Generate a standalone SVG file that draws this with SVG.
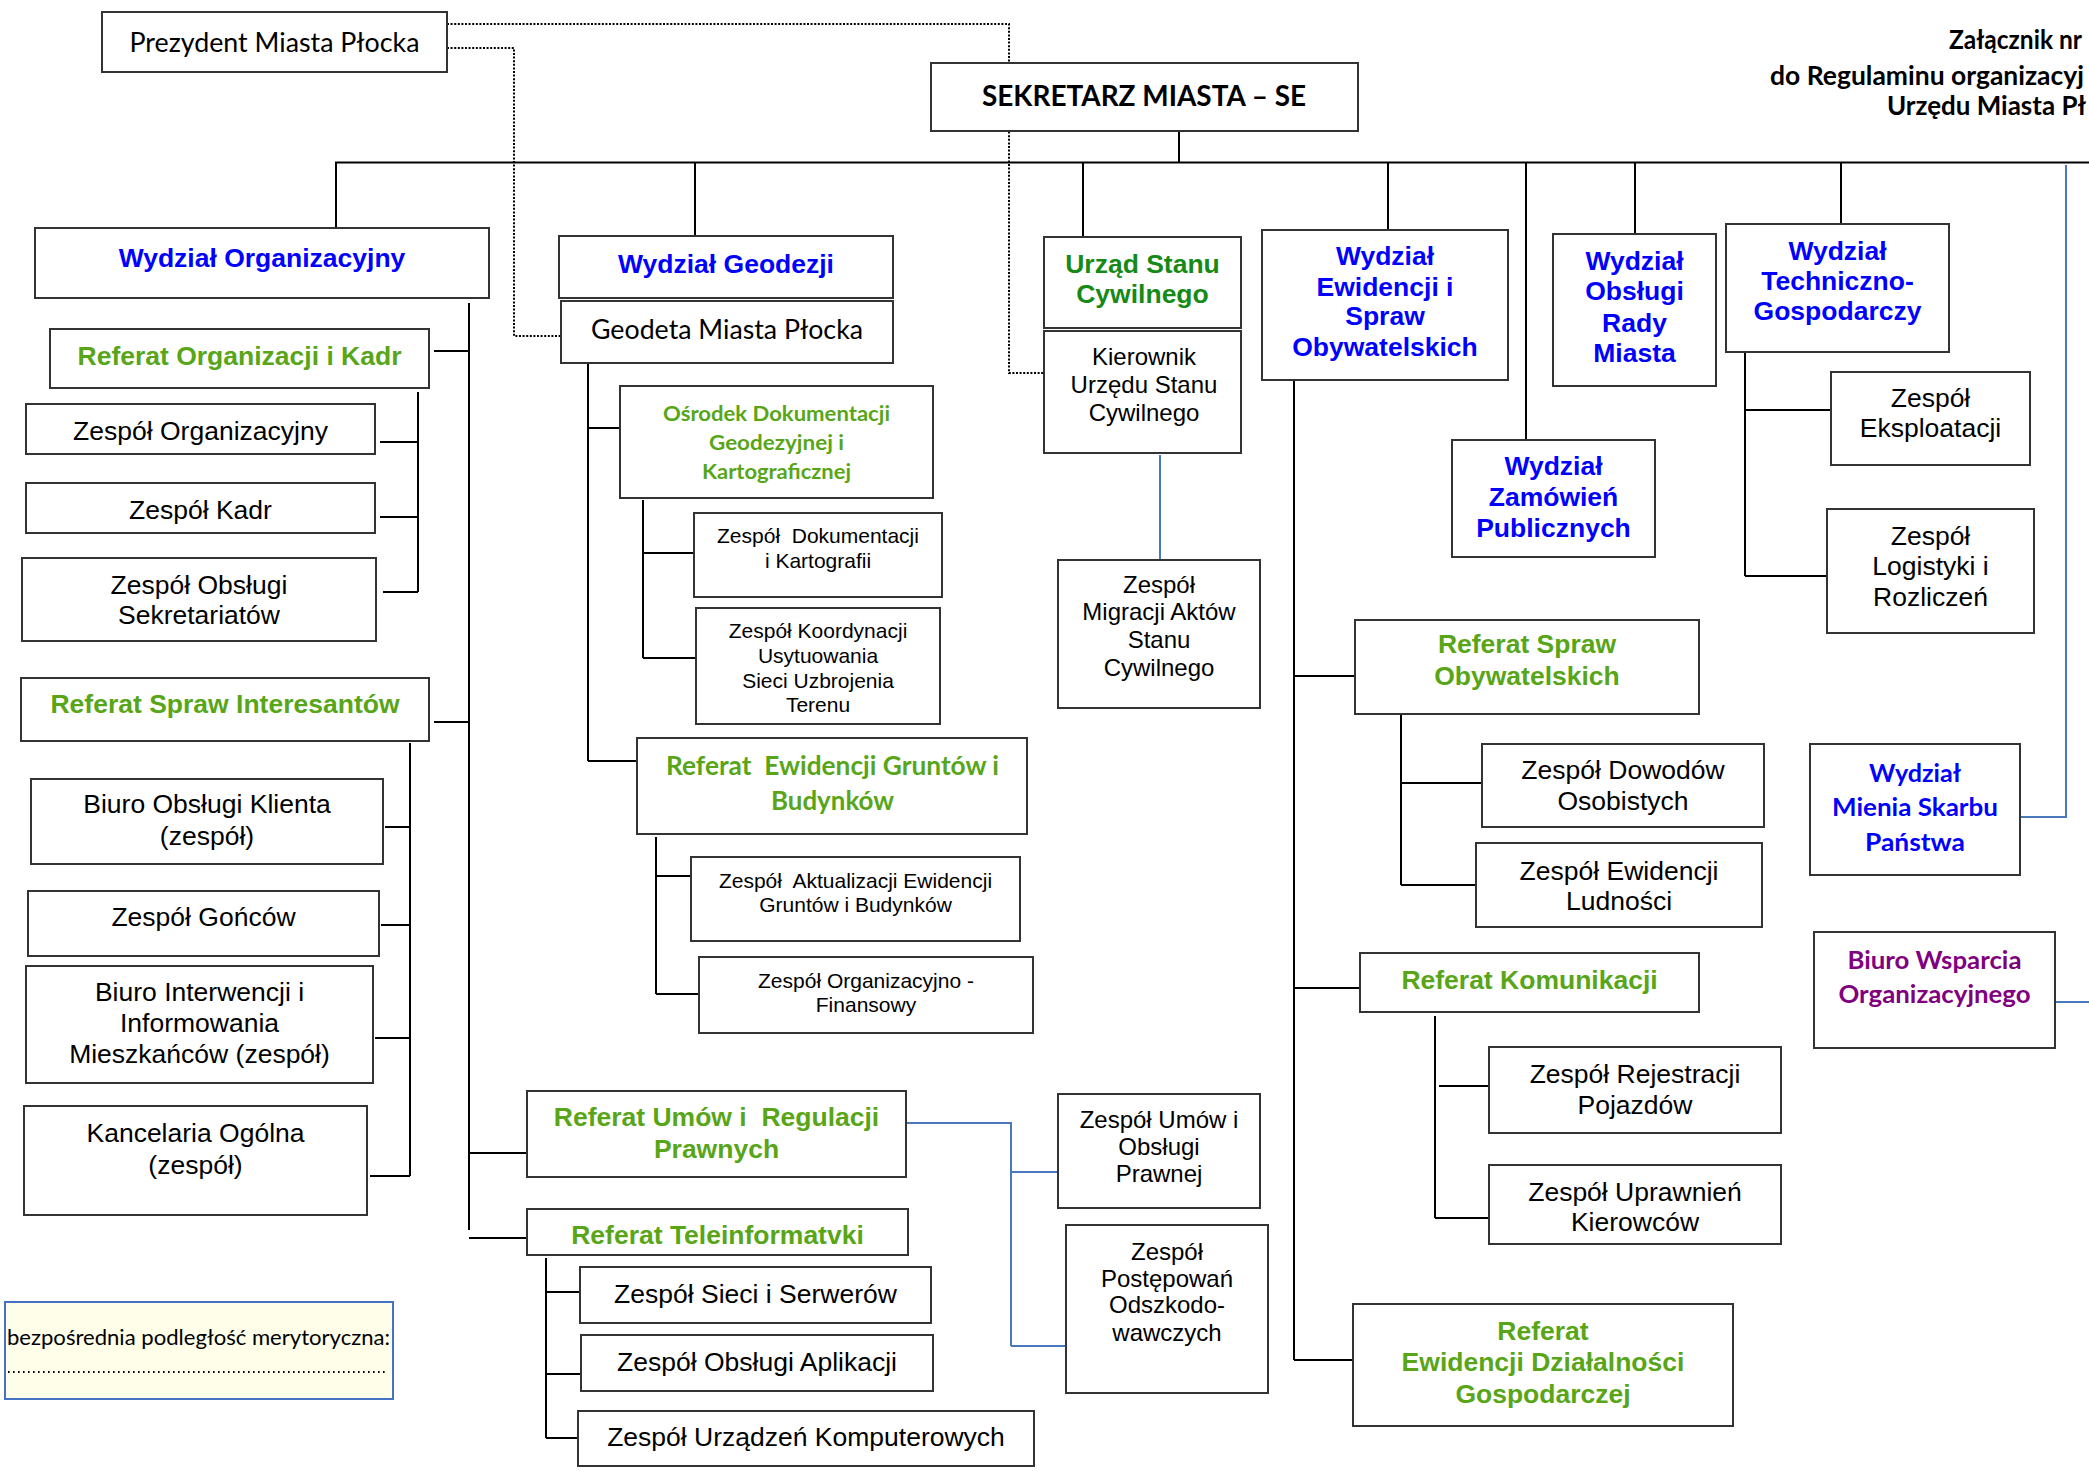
<svg xmlns="http://www.w3.org/2000/svg" width="2089" height="1471" viewBox="0 0 2089 1471">
<style>
.b{fill:#fff;stroke:#333;stroke-width:2}
.k{fill:none;stroke:#000;stroke-width:2}
.bl{fill:none;stroke:#4a78bd;stroke-width:2}
.d{fill:none;stroke:#000;stroke-width:2;stroke-dasharray:2 1.6}
text{text-anchor:middle}
.ar{font-family:"Liberation Sans",Arial,sans-serif;font-size:26.5px;fill:#000}
.s24{font-size:24px}
.s21{font-size:21px}
.ca{font-family:Lato,"Open Sans",sans-serif;fill:#000}
.wb{font-weight:bold;fill:#0000ff}
.gr{font-weight:bold;fill:#58a618}
.dg{font-weight:bold;fill:#168a16}
.pu{font-weight:bold;fill:#800080}
</style>
<rect width="2089" height="1471" fill="#fff"/>

<g id="connectors">
  <path class="k" d="M336 228V162.5H2089"/>
  <path class="k" d="M1179 131V163M695 162V236M1083 162V237M1388 162V230M1526 162V440M1635 163V234M1841 163V224"/>
  <path class="k" d="M469 303V1230M434 351H469M434 722H469M469 1153H527M469 1238H527"/>
  <path class="k" d="M418 392V592M380 442H418M380 517H418M383 592H418"/>
  <path class="k" d="M410 743V1176M385 827H410M381 925H410M375 1038H410M370 1176H410"/>
  <path class="k" d="M588 363V761M588 428H625M588 761H637"/>
  <path class="k" d="M643 500V658M643 553H694M643 658H696"/>
  <path class="k" d="M656 837V994M656 876H693M656 994H706"/>
  <path class="k" d="M546 1258V1438M546 1292H580M546 1374H581M546 1438H578"/>
  <path class="k" d="M1294 380V1360M1294 676H1355M1294 988H1366M1294 1360H1353"/>
  <path class="k" d="M1401 714V885M1401 783H1482M1401 885H1476"/>
  <path class="k" d="M1435 1016V1218M1439 1086H1497M1435 1218H1489"/>
  <path class="k" d="M1745 352V576M1745 410H1831M1745 576H1828"/>
  <path class="bl" d="M1160 455V559"/>
  <path class="bl" d="M906 1123H1011V1346M1011 1172H1058M1011 1346H1066"/>
  <path class="bl" d="M2066 165V817H2020"/>
  <path class="bl" d="M2055 1002H2089"/>
  <path class="d" d="M447 24H1009V373H1044"/>
  <path class="d" d="M447 48H514V336H561"/>
</g>

<g id="header">
  <text class="ca" font-weight="bold" font-size="26" x="1949" y="49" style="text-anchor:start" textLength="133" lengthAdjust="spacingAndGlyphs">Załącznik nr</text>
  <text class="ca" font-weight="bold" font-size="26" x="1770" y="85" style="text-anchor:start" textLength="314" lengthAdjust="spacingAndGlyphs">do Regulaminu organizacyj</text>
  <text class="ca" font-weight="bold" font-size="26" x="1887" y="115" style="text-anchor:start" textLength="199" lengthAdjust="spacingAndGlyphs">Urzędu Miasta Pł</text>
</g>

<g id="prezydent"><rect class="b" x="102" y="12" width="345" height="60"/>
  <text class="ca" font-size="27" x="274.5" y="52" textLength="290" lengthAdjust="spacingAndGlyphs">Prezydent Miasta Płocka</text></g>
<g id="sekretarz"><rect class="b" x="931" y="63" width="427" height="68"/>
  <text class="ca" font-weight="bold" font-size="29" x="1144" y="106" textLength="324" lengthAdjust="spacingAndGlyphs">SEKRETARZ MIASTA – SE</text></g>

<g id="wydzial-organizacyjny"><rect class="b" x="35" y="228" width="454" height="70"/>
  <text class="ar wb" font-size="25" x="262" y="267">Wydział Organizacyjny</text></g>
<g id="referat-organizacji-kadr"><rect class="b" x="50" y="329" width="379" height="59"/>
  <text class="ar gr" x="239.5" y="365">Referat Organizacji i Kadr</text></g>
<g id="zespol-organizacyjny"><rect class="b" x="26" y="404" width="349" height="50"/>
  <text class="ar" x="200.5" y="440">Zespół Organizacyjny</text></g>
<g id="zespol-kadr"><rect class="b" x="26" y="483" width="349" height="50"/>
  <text class="ar" x="200.5" y="519">Zespół Kadr</text></g>
<g id="zespol-sekretariatow"><rect class="b" x="22" y="558" width="354" height="83"/>
  <text class="ar" x="199" y="594">Zespół Obsługi</text><text class="ar" x="199" y="624">Sekretariatów</text></g>
<g id="referat-interesantow"><rect class="b" x="21" y="678" width="408" height="63"/>
  <text class="ar gr" x="225" y="713">Referat Spraw Interesantów</text></g>
<g id="biuro-obslugi-klienta"><rect class="b" x="31" y="779" width="352" height="85"/>
  <text class="ar" x="207" y="813">Biuro Obsługi Klienta</text><text class="ar" x="207" y="845">(zespół)</text></g>
<g id="zespol-goncow"><rect class="b" x="28" y="891" width="351" height="65"/>
  <text class="ar" x="203.5" y="926">Zespół Gońców</text></g>
<g id="biuro-interwencji"><rect class="b" x="26" y="966" width="347" height="117"/>
  <text class="ar" x="199.5" y="1001">Biuro Interwencji i</text><text class="ar" x="199.5" y="1032">Informowania</text><text class="ar" x="199.5" y="1063">Mieszkańców (zespół)</text></g>
<g id="kancelaria"><rect class="b" x="24" y="1106" width="343" height="109"/>
  <text class="ar" x="195.5" y="1142">Kancelaria Ogólna</text><text class="ar" x="195.5" y="1174">(zespół)</text></g>

<g id="legenda"><rect x="5" y="1302" width="388" height="97" fill="#fefee9" stroke="#4472c4" stroke-width="2"/>
  <text class="ca" font-size="22" x="7" y="1345" style="text-anchor:start" textLength="383" lengthAdjust="spacingAndGlyphs">bezpośrednia podległość merytoryczna:</text>
  <path d="M8 1372H388" stroke="#000" stroke-width="2" stroke-dasharray="1.6 3.4" fill="none"/></g>

<g id="wydzial-geodezji"><rect class="b" x="559" y="236" width="334" height="62"/>
  <text class="ar wb" font-size="25.5" x="726" y="273">Wydział Geodezji</text></g>
<g id="geodeta"><rect class="b" x="561" y="301" width="332" height="62"/>
  <text class="ca" font-size="27" x="727" y="339" textLength="272" lengthAdjust="spacingAndGlyphs">Geodeta Miasta Płocka</text></g>
<g id="osrodek"><rect class="b" x="620" y="386" width="313" height="112"/>
  <text class="ca gr" font-size="21" x="776.5" y="421" textLength="227" lengthAdjust="spacingAndGlyphs">Ośrodek Dokumentacji</text>
  <text class="ca gr" font-size="21" x="776.5" y="450" textLength="135" lengthAdjust="spacingAndGlyphs">Geodezyjnej i</text>
  <text class="ca gr" font-size="21" x="776.5" y="479" textLength="149" lengthAdjust="spacingAndGlyphs">Kartograficznej</text></g>
<g id="zespol-dokumentacji"><rect class="b" x="694" y="513" width="248" height="84"/>
  <text class="ar s21" x="818" y="543" xml:space="preserve">Zespół  Dokumentacji</text><text class="ar s21" x="818" y="568">i Kartografii</text></g>
<g id="zespol-koordynacji"><rect class="b" x="696" y="608" width="244" height="116"/>
  <text class="ar s21" x="818" y="638">Zespół Koordynacji</text><text class="ar s21" x="818" y="663">Usytuowania</text><text class="ar s21" x="818" y="688">Sieci Uzbrojenia</text><text class="ar s21" x="818" y="712">Terenu</text></g>
<g id="referat-ewidencji-gruntow"><rect class="b" x="637" y="738" width="390" height="96"/>
  <text class="ca gr" font-size="26" x="832.5" y="775" textLength="333" lengthAdjust="spacingAndGlyphs" xml:space="preserve">Referat  Ewidencji Gruntów i</text>
  <text class="ca gr" font-size="26" x="832.5" y="810" textLength="123" lengthAdjust="spacingAndGlyphs">Budynków</text></g>
<g id="zespol-aktualizacji"><rect class="b" x="691" y="857" width="329" height="84"/>
  <text class="ar s21" x="855.5" y="888" xml:space="preserve">Zespół  Aktualizacji Ewidencji</text><text class="ar s21" x="855.5" y="912">Gruntów i Budynków</text></g>
<g id="zespol-org-fin"><rect class="b" x="699" y="957" width="334" height="76"/>
  <text class="ar s21" x="866" y="988">Zespół Organizacyjno -</text><text class="ar s21" x="866" y="1012">Finansowy</text></g>
<g id="referat-umow"><rect class="b" x="527" y="1091" width="379" height="86"/>
  <text class="ar gr" x="716.5" y="1126" xml:space="preserve">Referat Umów i  Regulacji</text><text class="ar gr" x="716.5" y="1158">Prawnych</text></g>
<g id="referat-teleinformatyki"><rect class="b" x="527" y="1209" width="381" height="46"/>
  <text class="ar gr" x="717.5" y="1244">Referat Teleinformatvki</text></g>
<g id="zespol-sieci"><rect class="b" x="580" y="1267" width="351" height="56"/>
  <text class="ar" x="755.5" y="1303">Zespół Sieci i Serwerów</text></g>
<g id="zespol-aplikacji"><rect class="b" x="581" y="1335" width="352" height="56"/>
  <text class="ar" x="757" y="1371">Zespół Obsługi Aplikacji</text></g>
<g id="zespol-urzadzen"><rect class="b" x="578" y="1411" width="456" height="55"/>
  <text class="ar" x="806" y="1446">Zespół Urządzeń Komputerowych</text></g>
<g id="zespol-umow"><rect class="b" x="1058" y="1094" width="202" height="114"/>
  <text class="ar s24" x="1159" y="1128">Zespół Umów i</text><text class="ar s24" x="1159" y="1155">Obsługi</text><text class="ar s24" x="1159" y="1182">Prawnej</text></g>
<g id="zespol-postepowan"><rect class="b" x="1066" y="1225" width="202" height="168"/>
  <text class="ar s24" x="1167" y="1260">Zespół</text><text class="ar s24" x="1167" y="1287">Postępowań</text><text class="ar s24" x="1167" y="1313">Odszkodo-</text><text class="ar s24" x="1167" y="1341">wawczych</text></g>

<g id="usc"><rect class="b" x="1044" y="237" width="197" height="91"/>
  <text class="ar dg" x="1142.5" y="273">Urząd Stanu</text><text class="ar dg" x="1142.5" y="303">Cywilnego</text></g>
<g id="kierownik-usc"><rect class="b" x="1044" y="331" width="197" height="122"/>
  <text class="ar s24" x="1144" y="365">Kierownik</text><text class="ar s24" x="1144" y="393">Urzędu Stanu</text><text class="ar s24" x="1144" y="421">Cywilnego</text></g>
<g id="zespol-migracji"><rect class="b" x="1058" y="560" width="202" height="148"/>
  <text class="ar s24" x="1159" y="593">Zespół</text><text class="ar s24" x="1159" y="620">Migracji Aktów</text><text class="ar s24" x="1159" y="648">Stanu</text><text class="ar s24" x="1159" y="676">Cywilnego</text></g>

<g id="wydzial-ewidencji"><rect class="b" x="1262" y="230" width="246" height="150"/>
  <text class="ar wb" x="1385" y="265">Wydział</text><text class="ar wb" x="1385" y="296">Ewidencji i</text><text class="ar wb" x="1385" y="325">Spraw</text><text class="ar wb" x="1385" y="356">Obywatelskich</text></g>
<g id="referat-spraw-obywatelskich"><rect class="b" x="1355" y="620" width="344" height="94"/>
  <text class="ar gr" x="1527" y="653">Referat Spraw</text><text class="ar gr" x="1527" y="685">Obywatelskich</text></g>
<g id="zespol-dowodow"><rect class="b" x="1482" y="744" width="282" height="83"/>
  <text class="ar" x="1623" y="779">Zespół Dowodów</text><text class="ar" x="1623" y="810">Osobistych</text></g>
<g id="zespol-ludnosci"><rect class="b" x="1476" y="843" width="286" height="84"/>
  <text class="ar" x="1619" y="880">Zespół Ewidencji</text><text class="ar" x="1619" y="910">Ludności</text></g>
<g id="referat-komunikacji"><rect class="b" x="1360" y="953" width="339" height="59"/>
  <text class="ar gr" x="1529.5" y="989">Referat Komunikacji</text></g>
<g id="zespol-rejestracji"><rect class="b" x="1489" y="1047" width="292" height="86"/>
  <text class="ar" x="1635" y="1083">Zespół Rejestracji</text><text class="ar" x="1635" y="1114">Pojazdów</text></g>
<g id="zespol-uprawnien"><rect class="b" x="1489" y="1165" width="292" height="79"/>
  <text class="ar" x="1635" y="1201">Zespół Uprawnień</text><text class="ar" x="1635" y="1231">Kierowców</text></g>
<g id="referat-dzialalnosci"><rect class="b" x="1353" y="1304" width="380" height="122"/>
  <text class="ar gr" x="1543" y="1340">Referat</text><text class="ar gr" x="1543" y="1371">Ewidencji Działalności</text><text class="ar gr" x="1543" y="1403">Gospodarczej</text></g>

<g id="wydzial-zamowien"><rect class="b" x="1452" y="440" width="203" height="117"/>
  <text class="ar wb" x="1553.5" y="475">Wydział</text><text class="ar wb" x="1553.5" y="506">Zamówień</text><text class="ar wb" x="1553.5" y="537">Publicznych</text></g>
<g id="wydzial-rady"><rect class="b" x="1553" y="234" width="163" height="152"/>
  <text class="ar wb" x="1634.5" y="270">Wydział</text><text class="ar wb" x="1634.5" y="300">Obsługi</text><text class="ar wb" x="1634.5" y="332">Rady</text><text class="ar wb" x="1634.5" y="362">Miasta</text></g>
<g id="wydzial-techniczny"><rect class="b" x="1726" y="224" width="223" height="128"/>
  <text class="ar wb" x="1837.5" y="260">Wydział</text><text class="ar wb" x="1837.5" y="290">Techniczno-</text><text class="ar wb" x="1837.5" y="320">Gospodarczy</text></g>
<g id="zespol-eksploatacji"><rect class="b" x="1831" y="372" width="199" height="93"/>
  <text class="ar" font-size="26" x="1930.5" y="407">Zespół</text><text class="ar" font-size="26" x="1930.5" y="437">Eksploatacji</text></g>
<g id="zespol-logistyki"><rect class="b" x="1827" y="509" width="207" height="124"/>
  <text class="ar" font-size="26" x="1930.5" y="545">Zespół</text><text class="ar" font-size="26" x="1930.5" y="575">Logistyki i</text><text class="ar" font-size="26" x="1930.5" y="606">Rozliczeń</text></g>
<g id="wydzial-mienia"><rect class="b" x="1810" y="744" width="210" height="131"/>
  <text class="ca wb" font-size="25" x="1915" y="782" textLength="92" lengthAdjust="spacingAndGlyphs">Wydział</text>
  <text class="ca wb" font-size="25" x="1915" y="816" textLength="166" lengthAdjust="spacingAndGlyphs">Mienia Skarbu</text>
  <text class="ca wb" font-size="25" x="1915" y="851" textLength="100" lengthAdjust="spacingAndGlyphs">Państwa</text></g>
<g id="biuro-wsparcia"><rect class="b" x="1814" y="932" width="241" height="116"/>
  <text class="ca pu" font-size="25" x="1934.5" y="969" textLength="174" lengthAdjust="spacingAndGlyphs">Biuro Wsparcia</text>
  <text class="ca pu" font-size="25" x="1934.5" y="1003" textLength="192" lengthAdjust="spacingAndGlyphs">Organizacyjnego</text></g>
</svg>
